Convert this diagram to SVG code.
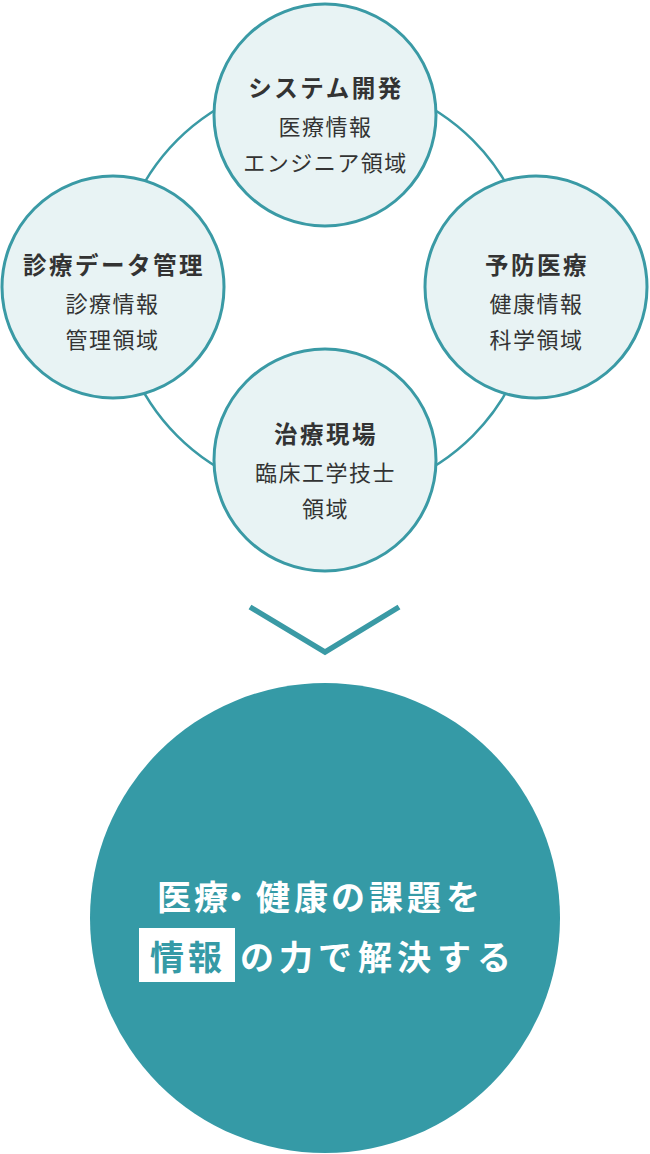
<svg xmlns="http://www.w3.org/2000/svg" width="650" height="1154" viewBox="0 0 650 1154">
<style>
.ring{fill:none;stroke:#3a9aa5;stroke-width:2.5}
.node{fill:#e8f3f4;stroke:#3a9aa5;stroke-width:3}
.t{font-family:"Noto Sans CJK JP","Noto Sans CJK SC",sans-serif;fill:#333;text-anchor:middle}
.b{font-size:23.5px;font-weight:700;letter-spacing:2.5px}
.r{font-size:22px;font-weight:400;letter-spacing:1.5px}
.w{font-family:"Noto Sans CJK JP","Noto Sans CJK SC",sans-serif;font-size:34px;font-weight:700;fill:#fff;text-anchor:middle}
</style>
<rect width="650" height="1154" fill="#fff"/>
<g id="connectors">
<circle class="ring" cx="325" cy="288" r="209"/>
<polyline points="250,607 325,652 399,607" fill="none" stroke="#3a9aa5" stroke-width="5.5"/>
</g>
<g id="node-system">
<circle class="node" cx="325" cy="115" r="111"/>
<text class="t b" x="326" y="97">システム開発</text>
<text class="t r" x="325.5" y="135">医療情報</text>
<text class="t r" x="325.5" y="171">エンジニア領域</text>
</g>
<g id="node-shinryo">
<circle class="node" cx="113" cy="287" r="111"/>
<text class="t b" x="114" y="274">診療データ管理</text>
<text class="t r" x="112.5" y="312">診療情報</text>
<text class="t r" x="112.5" y="348">管理領域</text>
</g>
<g id="node-yobo">
<circle class="node" cx="536" cy="287" r="111"/>
<text class="t b" x="537" y="274">予防医療</text>
<text class="t r" x="536.5" y="312">健康情報</text>
<text class="t r" x="536.5" y="348">科学領域</text>
</g>
<g id="node-chiryo">
<circle class="node" cx="325" cy="460" r="111"/>
<text class="t b" x="326" y="443">治療現場</text>
<text class="t r" x="325.5" y="481">臨床工学技士</text>
<text class="t r" x="325.5" y="517">領域</text>
</g>
<g id="node-goal">
<circle cx="325" cy="918" r="235" fill="#359aa6"/>
<text class="w" x="174 211 236 273 311 348 386 424 463" y="910">医療・健康の課題を</text>
<rect x="139" y="928" width="96" height="54" fill="#fff"/>
<text class="w" x="167 205" y="970" style="fill:#359aa6">情報</text>
<text class="w" x="257 296 335 375 414 454 494" y="970">の力で解決する</text>
</g>
</svg>
